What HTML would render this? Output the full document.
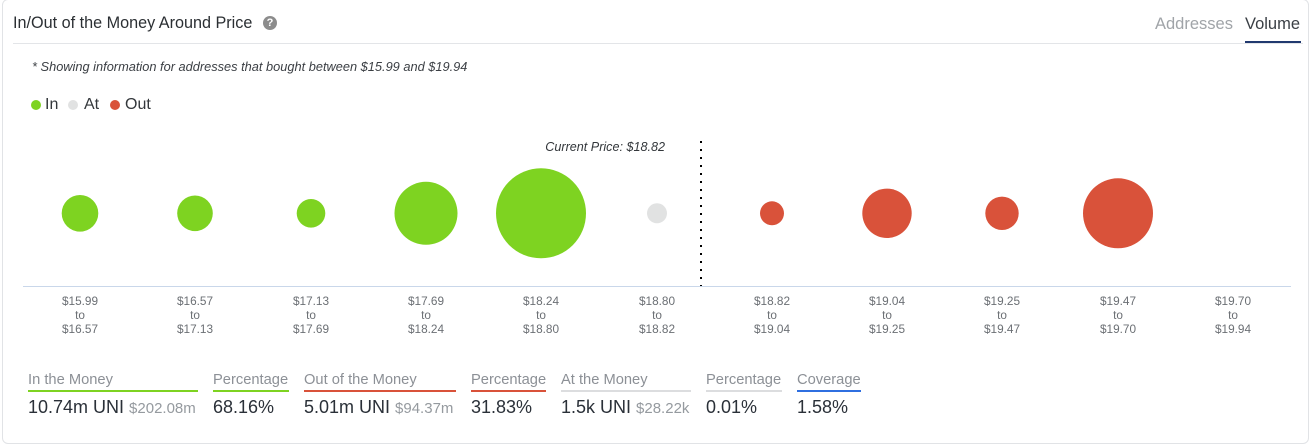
<!DOCTYPE html>
<html>
<head>
<meta charset="utf-8">
<style>
  html,body{margin:0;padding:0;background:#fff;}
  body{width:1313px;height:447px;position:relative;overflow:hidden;font-family:"Liberation Sans",Arial,sans-serif;}
  .card{position:absolute;left:2px;top:-1px;width:1307px;height:445px;border:1px solid #e1e3e6;border-radius:6px;box-sizing:border-box;}
  .abs{position:absolute;white-space:nowrap;}
  .title{left:13px;top:13px;font-size:16.2px;color:#2b2f33;line-height:20px;}
  .help{left:263px;top:16px;width:14px;height:14px;border-radius:50%;background:#8c8c8c;color:#fff;font-size:11px;font-weight:bold;text-align:center;line-height:14px;}
  .hline{left:13px;top:43px;width:1290px;height:1px;background:#e3e5e8;}
  .tab1{left:1155px;top:14px;font-size:16.5px;color:#a0a4a8;line-height:20px;}
  .tab2{left:1245px;top:14px;font-size:16.5px;color:#3a3f45;line-height:20px;}
  .tabline{left:1245px;top:41px;width:56px;height:2px;background:#21396f;}
  .note{left:32px;top:59px;font-size:12.8px;font-style:italic;color:#3b3f44;line-height:16px;}
  .leg{top:96px;font-size:16px;color:#33373b;line-height:18px;}
  .dot{width:10px;height:10px;border-radius:50%;top:100px;}
  .lbl{top:372px;font-size:14.7px;color:#8c9096;line-height:16px;}
  .ul{top:390px;height:2px;}
  .val{top:397px;font-size:18px;color:#2a3038;line-height:20px;}
  .sub{font-size:15px;color:#959a9f;}
</style>
</head>
<body>
<div class="card"></div>
<div class="abs title">In/Out of the Money Around Price</div>
<div class="abs help">?</div>
<div class="abs tab1">Addresses</div>
<div class="abs tab2">Volume</div>
<div class="abs hline"></div>
<div class="abs tabline"></div>
<div class="abs note">* Showing information for addresses that bought between $15.99 and $19.94</div>

<div class="abs dot" style="left:31px;background:#7ed321;"></div>
<div class="abs leg" style="left:45px;">In</div>
<div class="abs dot" style="left:68px;background:#e1e2e2;"></div>
<div class="abs leg" style="left:84px;">At</div>
<div class="abs dot" style="left:110px;background:#d9523a;"></div>
<div class="abs leg" style="left:125px;">Out</div>

<svg class="abs" style="left:0;top:0;" width="1313" height="447" xmlns="http://www.w3.org/2000/svg">
  <line x1="23" y1="286.5" x2="1291" y2="286.5" stroke="#c9d7ea" stroke-width="1"/>
  <line x1="701" y1="141" x2="701" y2="286" stroke="#000" stroke-width="2" stroke-dasharray="2 6"/>
  <text x="665" y="151" text-anchor="end" font-family="Liberation Sans, Arial, sans-serif" font-size="12.6" font-style="italic" fill="#33373b">Current Price: $18.82</text>
  <g>
    <circle cx="80" cy="213.3" r="18.3" fill="#7ed321"/>
    <circle cx="195" cy="213.3" r="17.8" fill="#7ed321"/>
    <circle cx="311" cy="213.3" r="14.3" fill="#7ed321"/>
    <circle cx="426" cy="213.3" r="31.5" fill="#7ed321"/>
    <circle cx="541" cy="213.3" r="45" fill="#7ed321"/>
    <circle cx="657" cy="213.3" r="10" fill="#e1e2e2"/>
    <circle cx="772" cy="213.3" r="12" fill="#d9523a"/>
    <circle cx="887" cy="213.3" r="24.7" fill="#d9523a"/>
    <circle cx="1002" cy="213.3" r="16.7" fill="#d9523a"/>
    <circle cx="1118" cy="213.3" r="35" fill="#d9523a"/>
  </g>
  <g font-family="Liberation Sans, Arial, sans-serif" font-size="11.8" fill="#6b6f74" text-anchor="middle">
    <text x="80" y="305">$15.99</text><text x="80" y="319">to</text><text x="80" y="333">$16.57</text>
    <text x="195" y="305">$16.57</text><text x="195" y="319">to</text><text x="195" y="333">$17.13</text>
    <text x="311" y="305">$17.13</text><text x="311" y="319">to</text><text x="311" y="333">$17.69</text>
    <text x="426" y="305">$17.69</text><text x="426" y="319">to</text><text x="426" y="333">$18.24</text>
    <text x="541" y="305">$18.24</text><text x="541" y="319">to</text><text x="541" y="333">$18.80</text>
    <text x="657" y="305">$18.80</text><text x="657" y="319">to</text><text x="657" y="333">$18.82</text>
    <text x="772" y="305">$18.82</text><text x="772" y="319">to</text><text x="772" y="333">$19.04</text>
    <text x="887" y="305">$19.04</text><text x="887" y="319">to</text><text x="887" y="333">$19.25</text>
    <text x="1002" y="305">$19.25</text><text x="1002" y="319">to</text><text x="1002" y="333">$19.47</text>
    <text x="1118" y="305">$19.47</text><text x="1118" y="319">to</text><text x="1118" y="333">$19.70</text>
    <text x="1233" y="305">$19.70</text><text x="1233" y="319">to</text><text x="1233" y="333">$19.94</text>
  </g>
</svg>

<div class="abs lbl" style="left:28px;">In the Money</div>
<div class="abs ul" style="left:28px;width:170px;background:#7ed321;"></div>
<div class="abs val" style="left:28px;">10.74m UNI <span class="sub">$202.08m</span></div>

<div class="abs lbl" style="left:213px;">Percentage</div>
<div class="abs ul" style="left:213px;width:76px;background:#7ed321;"></div>
<div class="abs val" style="left:213px;">68.16%</div>

<div class="abs lbl" style="left:304px;">Out of the Money</div>
<div class="abs ul" style="left:304px;width:152px;background:#d9523a;"></div>
<div class="abs val" style="left:304px;">5.01m UNI <span class="sub">$94.37m</span></div>

<div class="abs lbl" style="left:471px;">Percentage</div>
<div class="abs ul" style="left:471px;width:75px;background:#d9523a;"></div>
<div class="abs val" style="left:471px;">31.83%</div>

<div class="abs lbl" style="left:561px;">At the Money</div>
<div class="abs ul" style="left:561px;width:130px;background:#dcdddf;"></div>
<div class="abs val" style="left:561px;">1.5k UNI <span class="sub">$28.22k</span></div>

<div class="abs lbl" style="left:706px;">Percentage</div>
<div class="abs ul" style="left:706px;width:76px;background:#dcdddf;"></div>
<div class="abs val" style="left:706px;">0.01%</div>

<div class="abs lbl" style="left:797px;">Coverage</div>
<div class="abs ul" style="left:797px;width:64px;background:#2f6fe0;"></div>
<div class="abs val" style="left:797px;">1.58%</div>
</body>
</html>
